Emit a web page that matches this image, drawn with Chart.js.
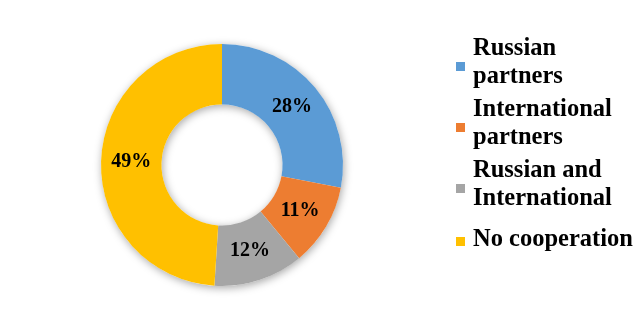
<!DOCTYPE html>
<html>
<head>
<meta charset="utf-8">
<script src="https://cdn.jsdelivr.net/npm/chart.js@4"></script>
<style>
    html, body { margin: 0; padding: 0; background: #fff; }
    #wrap { position: relative; width: 642px; height: 330px; overflow: hidden; }
    #chart { position: absolute; left: 0; top: 0; }
    #legend {
        position: absolute; left: 0; top: 0;
        font-family: "Liberation Serif", "Times New Roman", serif;
        font-weight: bold; font-size: 24.5px; color: #000;
    }
    .item { position: absolute; left: 473px; line-height: 28px; white-space: nowrap; }
    .box { position: absolute; left: -17px; width: 9px; height: 9px; }
</style>
</head>
<body>
<div id="wrap">
    <canvas id="chart" width="642" height="330"></canvas>
    <div id="legend"></div>
</div>
<script>
    const categories = ["Russian partners", "International partners", "Russian and International", "No cooperation"];
    const legendLines = [["Russian", "partners"], ["International", "partners"], ["Russian and", "International"], ["No cooperation"]];
    const shares = [28, 11, 12, 49];
    const colors = ["#5B9BD5", "#ED7D31", "#A5A5A5", "#FFC000"];

    // legend item positions (px from top of page)
    const legendTops = [33, 94, 155, 224];

    const legend = document.getElementById("legend");
    legendLines.forEach((lines, i) => {
        const item = document.createElement("div");
        item.className = "item";
        item.style.top = legendTops[i] + "px";
        item.innerHTML = lines.join("<br>");
        const box = document.createElement("span");
        box.className = "box";
        box.style.background = colors[i];
        box.style.top = (lines.length * 16 - 3) + "px";
        item.appendChild(box);
        legend.appendChild(item);
    });

    const ringShadow = {
        id: "ringShadow",
        beforeDatasetsDraw(chart) {
            const a = chart.getDatasetMeta(0).data[0];
            const ctx = chart.ctx;
            ctx.save();
            ctx.shadowColor = "rgba(0,0,0,0.35)";
            ctx.shadowBlur = 8;
            ctx.shadowOffsetX = 1;
            ctx.shadowOffsetY = 2;
            ctx.fillStyle = "#fff";
            ctx.beginPath();
            ctx.arc(a.x, a.y, a.outerRadius, 0, Math.PI * 2);
            ctx.arc(a.x, a.y, a.innerRadius, 0, Math.PI * 2, true);
            ctx.fill();
            ctx.restore();
        }
    };

    const sliceLabels = {
        id: "sliceLabels",
        afterDatasetsDraw(chart) {
            const ctx = chart.ctx;
            ctx.save();
            ctx.font = 'bold 20px "Liberation Serif", "Times New Roman", serif';
            ctx.fillStyle = "#000";
            ctx.textAlign = "center";
            ctx.textBaseline = "middle";
            chart.getDatasetMeta(0).data.forEach((arc, i) => {
                const p = arc.tooltipPosition();
                ctx.fillText(shares[i] + "%", p.x, p.y);
            });
            ctx.restore();
        }
    };

    new Chart(document.getElementById("chart"), {
        type: "doughnut",
        data: {
            labels: categories,
            datasets: [{
                data: shares,
                backgroundColor: colors,
                borderWidth: 0
            }]
        },
        options: {
            responsive: false,
            animation: false,
            cutout: "50%",
            layout: { padding: { left: 101, right: 299, top: 44, bottom: 44 } },
            plugins: {
                legend: { display: false },
                tooltip: { enabled: false }
            }
        },
        plugins: [ringShadow, sliceLabels]
    });
</script>
</body>
</html>
